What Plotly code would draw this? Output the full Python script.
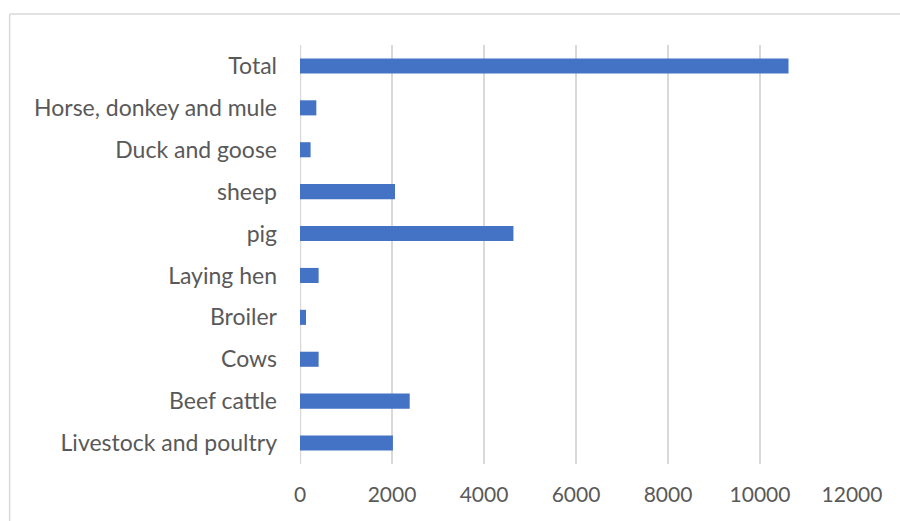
import plotly.graph_objects as go

# Livestock categories, listed bottom to top
categories = [
    "Livestock and poultry",
    "Beef cattle",
    "Cows",
    "Broiler",
    "Laying hen",
    "pig",
    "sheep",
    "Duck and goose",
    "Horse, donkey and mule",
    "Total",
]
values = [2020, 2385, 405, 130, 405, 4640, 2065, 230, 355, 10620]

x_ticks = [0, 2000, 4000, 6000, 8000, 10000, 12000]

BAR_COLOR = "#4472C4"
TEXT_COLOR = "#595959"
GRID_COLOR = "#d9d9d9"
FONT = "Lato"

fig = go.Figure(
    go.Bar(
        x=values,
        y=categories,
        orientation="h",
        marker=dict(color=BAR_COLOR, line=dict(width=0)),
        width=0.36,
    )
)

fig.update_layout(
    width=900,
    height=521,
    margin=dict(l=300, r=48, t=45, b=57),
    paper_bgcolor="white",
    plot_bgcolor="white",
    showlegend=False,
    font=dict(family=FONT, size=23, color=TEXT_COLOR),
    xaxis=dict(
        range=[0, 12000],
        tickvals=x_ticks,
        ticktext=[str(v) for v in x_ticks],
        showgrid=True,
        gridcolor=GRID_COLOR,
        gridwidth=1.5,
        zeroline=False,
        showline=False,
        ticks="",
        ticklabelstandoff=16,
        tickfont=dict(family=FONT, size=21, color=TEXT_COLOR),
    ),
    yaxis=dict(
        categoryorder="array",
        categoryarray=categories,
        showgrid=False,
        zeroline=False,
        showline=False,
        ticks="",
        ticklabelstandoff=22,
        tickfont=dict(family=FONT, size=23, color=TEXT_COLOR),
    ),
    shapes=[
        # chart-area frame (top and left edges)
        dict(type="line", xref="paper", yref="paper",
             x0=-0.526, x1=1.2, y0=1.074, y1=1.074,
             line=dict(color=GRID_COLOR, width=1.5)),
        dict(type="line", xref="paper", yref="paper",
             x0=-0.526, x1=-0.526, y0=1.074, y1=-0.2,
             line=dict(color=GRID_COLOR, width=1.5)),
        # vertical line at zero, drawn like a gridline
        dict(type="line", xref="x", yref="paper",
             x0=0, x1=0, y0=0, y1=1,
             line=dict(color=GRID_COLOR, width=2.5), layer="below"),
    ],
)

fig.write_html("out.html")
